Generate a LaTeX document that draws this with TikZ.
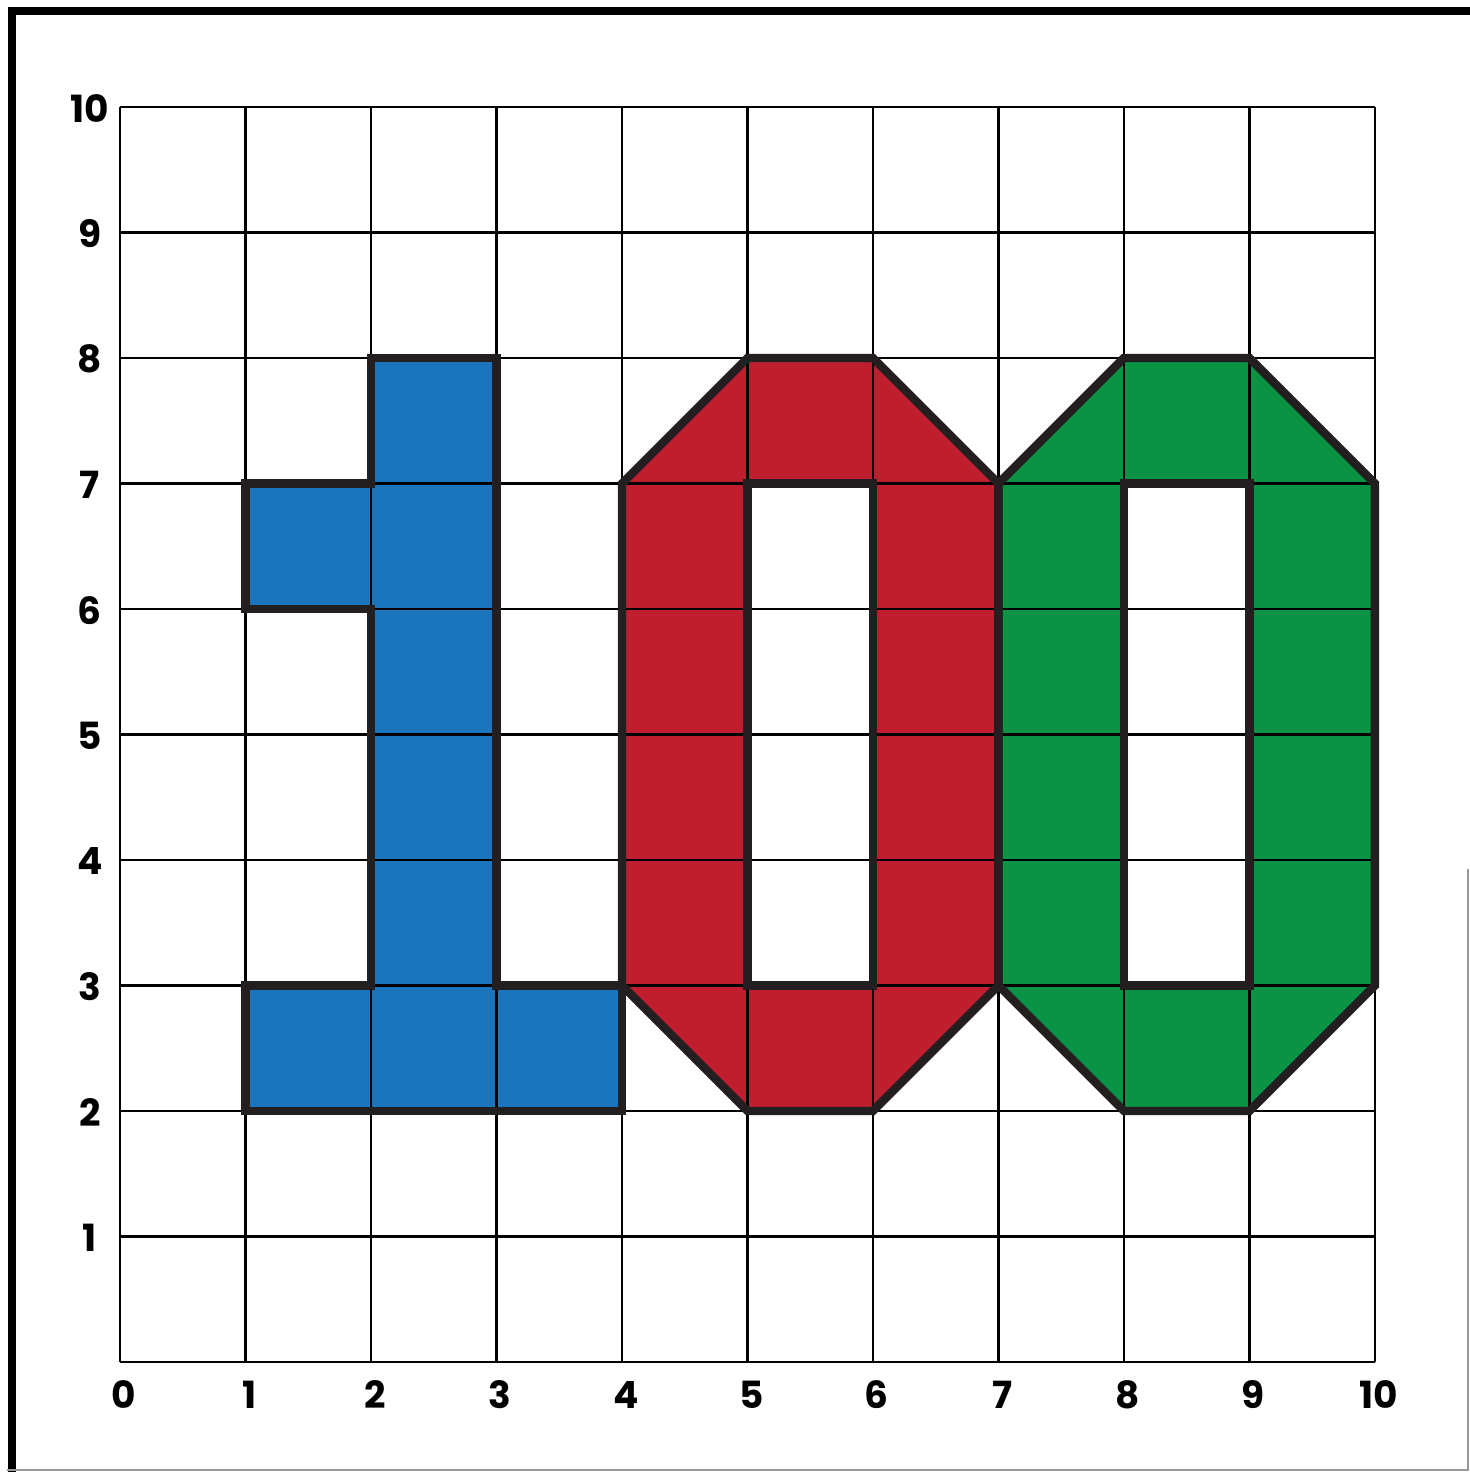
\documentclass[tikz,border=0pt]{standalone}
\usepackage{fontspec}
\setmainfont{Poppins}
\definecolor{oneblue}{HTML}{1A75BC}
\definecolor{zerored}{HTML}{BE1E2D}
\definecolor{zerogreen}{HTML}{0A9245}
\definecolor{outl}{HTML}{231F20}
\begin{document}
\begin{tikzpicture}[x=1cm,y=1cm,
  gridline/.style={black,line width=0.6pt},
  outline/.style={draw=outl,line width=1.9pt,line join=miter},
  lab/.style={font=\fontsize{8.5}{10}\selectfont\bfseries,inner sep=0pt}]
\useasboundingbox (-0.956,-0.877) rectangle (10.757,10.853);
% frame
\draw[black,line width=1.8pt,line join=miter] (-0.86,-0.877) -- (-0.86,10.765) -- (10.757,10.765);
\draw[gray!80,line width=0.4pt] (10.74,3.93) -- (10.74,-0.86) -- (-0.9,-0.86);
% fills
\fill[oneblue] (1,2) -- (4,2) -- (4,3) -- (3,3) -- (3,8) -- (2,8) -- (2,7) -- (1,7) -- (1,6) -- (2,6) -- (2,3) -- (1,3) -- cycle;
\fill[zerored,even odd rule] (5,2) -- (6,2) -- (7,3) -- (7,7) -- (6,8) -- (5,8) -- (4,7) -- (4,3) -- cycle (5,3) rectangle (6,7);
\fill[zerogreen,even odd rule] (8,2) -- (9,2) -- (10,3) -- (10,7) -- (9,8) -- (8,8) -- (7,7) -- (7,3) -- cycle (8,3) rectangle (9,7);
% grid
\draw[gridline] (0,0) grid (10,10);
% outlines
\draw[outline] (1,2) -- (4,2) -- (4,3) -- (3,3) -- (3,8) -- (2,8) -- (2,7) -- (1,7) -- (1,6) -- (2,6) -- (2,3) -- (1,3) -- cycle;
\draw[outline] (5,2) -- (6,2) -- (7,3) -- (7,7) -- (6,8) -- (5,8) -- (4,7) -- (4,3) -- cycle;
\draw[outline] (5,3) rectangle (6,7);
\draw[outline] (8,2) -- (9,2) -- (10,3) -- (10,7) -- (9,8) -- (8,8) -- (7,7) -- (7,3) -- cycle;
\draw[outline] (8,3) rectangle (9,7);
% labels
\foreach \i in {0,...,10} {
  \node[lab] (x\i) at (\i+0.03,-0.26) {\i};
}
\foreach \i in {1,...,10} {
  \node[lab] (y\i) at (-0.24,\i-0.01) {\i};
}
\end{tikzpicture}
\end{document}
